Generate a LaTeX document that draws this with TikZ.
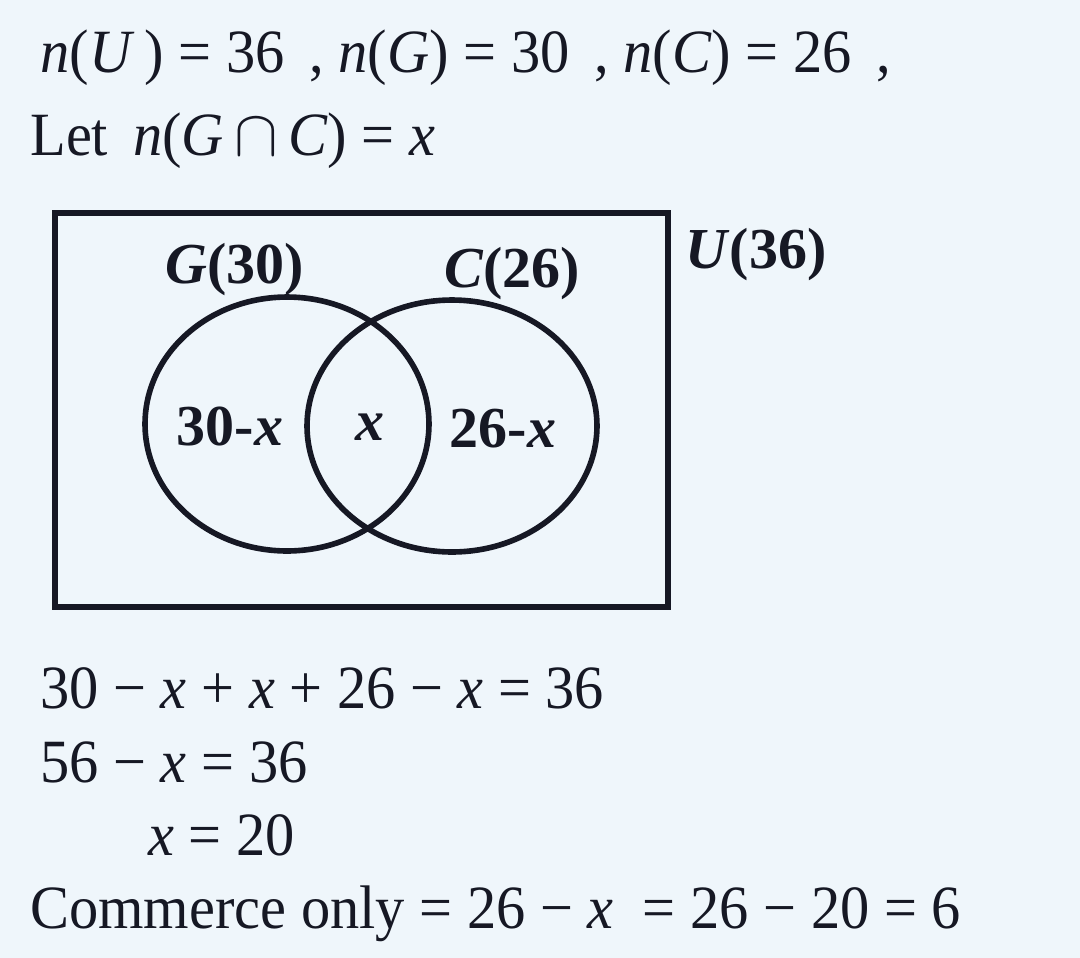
\documentclass[tikz,border=0pt]{standalone}
\usepackage{fontspec}
\setmainfont{Liberation Serif}
\newfontfamily\condfont[FakeStretch=0.95]{Liberation Serif}
\usepackage{tikz}
\usetikzlibrary{positioning}
\definecolor{paper}{RGB}{239,246,251}
\definecolor{ink}{RGB}{22,24,36}
\tikzstyle{setline} = [ink, line width=3.2pt]
\tikzstyle{txt} = [ink, inner sep=0pt, anchor=base west, font=\condfont\fontsize{35}{40}\selectfont]
\tikzstyle{lbl} = [ink, inner sep=0pt, anchor=base, font=\fontsize{33}{38}\selectfont\bfseries]
\newcommand{\iv}[1]{\textit{#1}}
\newcommand{\bigcapsym}{\,\scalebox{1.5}{$\cap$}\,}

\begin{document}
\begin{tikzpicture}[x=0.02cm, y=-0.02cm]
\fill[paper] (0,0) rectangle (1080,958);
\useasboundingbox (0,0) rectangle (1080,958);
% given data
\node[txt] (given) at (40,72) {\iv{n}(\iv{U}\,) = 36 \,, \iv{n}(\iv{G}) = 30 \,, \iv{n}(\iv{C}) = 26 \,,};
\node[txt] (let) at (30,155) {Let \,\iv{n}(\iv{G}\bigcapsym\iv{C}) = \iv{x}};
% venn diagram
\draw[setline] (55,213) rectangle (668,607);
\draw[setline] (287,424) ellipse (2.84cm and 2.54cm);
\draw[setline] (452,426) ellipse (2.90cm and 2.52cm);
\node[lbl, anchor=base west] (uset) at (685,268) {\iv{U}(36)};
\node[lbl] (gset) at (235,283) {\iv{G}(30)};
\node[lbl] (cset) at (512,287) {\iv{C}(26)};
\node[lbl] (gonly) at (230,445) {30-\iv{x}};
\node[lbl] (both) at (370,440) {\iv{x}};
\node[lbl] (conly) at (503,447) {26-\iv{x}};
% working
\node[txt] (eqa) at (40,708) {30 − \iv{x} + \iv{x} + 26 − \iv{x} = 36};
\node[txt] (eqb) at (40,782) {56 − \iv{x} = 36};
\node[txt] (eqc) at (148,855) {\iv{x} = 20};
\node[txt] (eqd) at (30,928) {Commerce only = 26 − \iv{x} \ = 26 − 20 = 6};
\end{tikzpicture}
\end{document}
